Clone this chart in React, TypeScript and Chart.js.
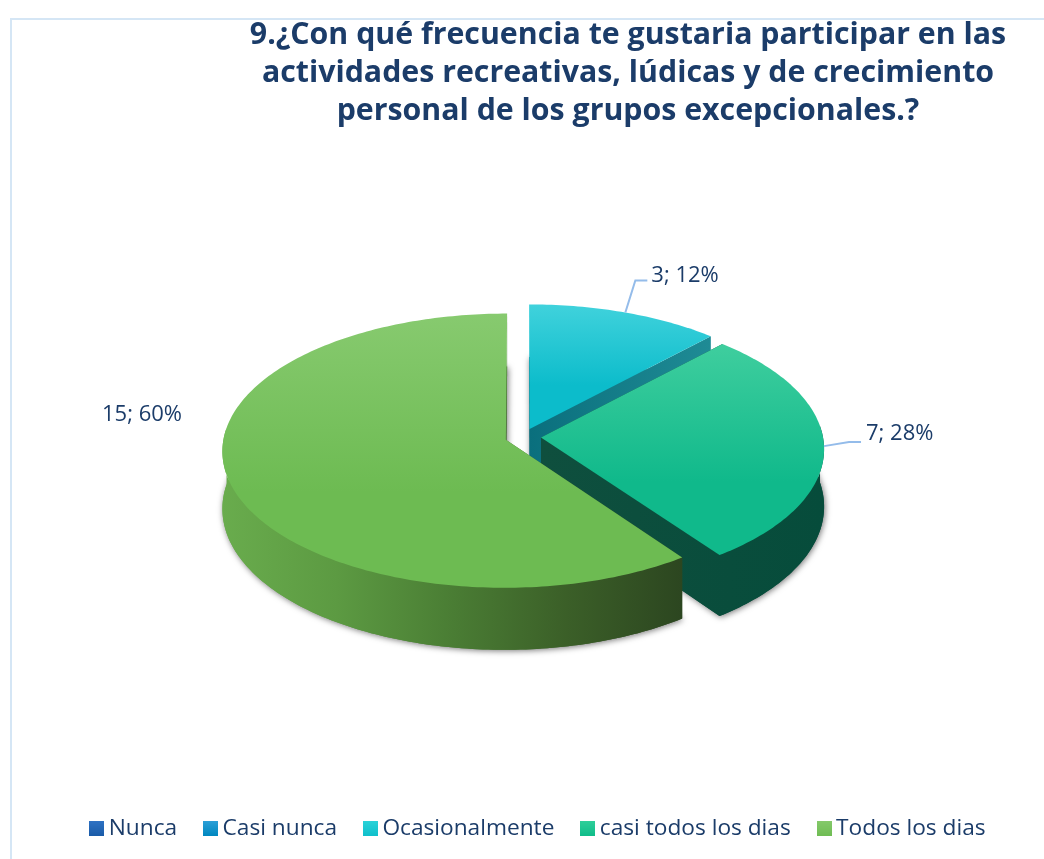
import React, { useEffect, useRef } from "react";
import { Chart, registerables } from "chart.js";

Chart.register(...registerables);

const categories = ["Nunca", "Casi nunca", "Ocasionalmente", "casi todos los dias", "Todos los dias"];
const values = [0, 0, 3, 7, 15];
const titleLines = [
  "9.¿Con qué frecuencia te gustaria participar en las",
  "actividades recreativas, lúdicas y de crecimiento",
  "personal de los grupos excepcionales.?",
];

const sliceColors = ["#1f5fad", "#1a8fc8", "#18c6d0", "#1cc490", "#70bf58"];
const swatchTops = ["#2f72c4", "#2da0d8", "#2bd3d9", "#2fcf9a", "#85ca6b"];
const swatchBottoms = ["#1a5ca8", "#0088c0", "#10c0cc", "#10bd8a", "#70bd55"];
const faceTops = ["#2f72c4", "#2da0d8", "#40d2dc", "#3fce9e", "#87ca6f"];
const faceBottoms = ["#1a5ca8", "#0088c0", "#0cbccb", "#10b98b", "#6dbb52"];
const wallStops: string[][] = [
  ["#123f73", "#123f73"],
  ["#0a5c80", "#0a5c80"],
  ["#0a6f7d", "#1f8b95"],
  ["#0f4f3e", "#064c3b"],
  ["#69ac4d", "#5c9a42", "#4a7d34", "#3b5f28", "#2c4620"],
];

const TEXT = "#1b3c69";
const LEADER = "#94bcea";
const FONT = "'Open Sans', sans-serif";

// view of the disc: vertical squash, perspective strength, wall height
const RADIUS = 282;
const SQUASH = 0.4815;
const PERSPECTIVE = 0.08;
const WALL = 57;

// label placement relative to the slice's rim point
const labelPlacement: Record<number, { text: [number, number]; bend?: [number, number]; end?: [number, number] }> = {
  2: { text: [26, -37], bend: [10, -32], end: [22, -32] },
  3: { text: [42, -12], bend: [25, -4], end: [37, -4] },
  4: { text: [-128, -68] },
};

type Pt = [number, number];

const pie3d = {
  id: "pie3d",
  afterLayout(chart: any) {
    const area = chart.chartArea;
    area.left = 243;
    area.right = 803;
    area.top = 157;
    area.bottom = 717;
    area.width = 560;
    area.height = 560;
    const t = chart.titleBlock;
    t.left += 106;
    t.right += 106;
    t.top = 2;
    t.bottom = t.top + t.height;
    const l = chart.legend;
    l.left += 19;
    l.right += 19;
    const h = l.bottom - l.top;
    l.top = 828 - 33 - 11;
    l.bottom = l.top + h;
  },
  beforeDatasetDraw() {
    return false;
  },
  afterDatasetsDraw(chart: any) {
    const ctx: CanvasRenderingContext2D = chart.ctx;
    const arcs = chart.getDatasetMeta(0).data;
    const total = values.reduce((a, b) => a + b, 0);

    const project = (px: number, py: number, cx: number, cy: number, depth = 0): Pt => {
      const dx = px - cx;
      const dy = py - cy;
      const den = 1 - (PERSPECTIVE * dy) / RADIUS;
      return [cx + dx / den, cy + (dy * SQUASH) / den + depth / den];
    };

    const geometry = (arc: any) => {
      const mid = (arc.startAngle + arc.endAngle) / 2;
      const shift = (arc.options.offset || 0) / 4;
      const ax = arc.x + Math.cos(mid) * shift;
      const ay = arc.y + Math.sin(mid) * shift;
      const at = (a: number, r: number, depth = 0) =>
        project(ax + Math.cos(a) * r, ay + Math.sin(a) * r, arc.x, arc.y, depth);
      return { mid, at };
    };

    const trace = (pts: Pt[]) => {
      ctx.beginPath();
      pts.forEach((p, i) => (i ? ctx.lineTo(p[0], p[1]) : ctx.moveTo(p[0], p[1])));
      ctx.closePath();
    };

    arcs.forEach((arc: any, i: number) => {
      if (!values[i]) return;
      const { at } = geometry(arc);
      const r = arc.outerRadius;
      const start = arc.startAngle;
      const end = arc.endAngle;
      const rim: number[] = [];
      const n = Math.ceil((end - start) / (Math.PI / 180));
      for (let k = 0; k <= n; k++) rim.push(start + ((end - start) * k) / n);

      const face = (depth: number): Pt[] => [at(0, 0, depth), ...rim.map((a) => at(a, r, depth))];
      const top = face(0);
      const xs = top.map((p) => p[0]);
      const ys = top.map((p) => p[1]);

      const wallFill = ctx.createLinearGradient(Math.min(...xs), 0, Math.max(...xs), 0);
      wallStops[i].forEach((c, k, all) => wallFill.addColorStop(k / (all.length - 1), c));

      // soft shadow from the underside
      ctx.save();
      ctx.shadowColor = "rgba(0,0,0,0.55)";
      ctx.shadowBlur = 6;
      ctx.shadowOffsetX = 1;
      ctx.shadowOffsetY = 1;
      ctx.fillStyle = wallFill;
      trace(face(WALL));
      ctx.fill();
      ctx.restore();

      ctx.fillStyle = wallFill;
      // radial walls
      [start, end].forEach((a) => {
        trace([at(0, 0), at(a, r), at(a, r, WALL), at(0, 0, WALL)]);
        ctx.fill();
      });
      // outer curved wall: front half only
      const front = rim.filter((a) => Math.sin(a) > -0.09);
      if (front.length > 1) {
        trace([...front.map((a) => at(a, r)), ...front.slice().reverse().map((a) => at(a, r, WALL))]);
        ctx.fill();
      }
      // top face
      const topFill = ctx.createLinearGradient(0, Math.min(...ys), 0, Math.max(...ys));
      topFill.addColorStop(0, faceTops[i]);
      topFill.addColorStop(0.65, faceBottoms[i]);
      topFill.addColorStop(1, faceBottoms[i]);
      ctx.fillStyle = topFill;
      trace(top);
      ctx.fill();
    });

    // data labels
    ctx.save();
    ctx.font = `22px ${FONT}`;
    ctx.textBaseline = "middle";
    ctx.textAlign = "left";
    arcs.forEach((arc: any, i: number) => {
      if (!values[i]) return;
      const { mid, at } = geometry(arc);
      const anchor = at(mid, arc.outerRadius);
      const place = labelPlacement[i];
      if (place.bend && place.end) {
        ctx.strokeStyle = LEADER;
        ctx.lineWidth = 2;
        ctx.beginPath();
        ctx.moveTo(anchor[0], anchor[1]);
        ctx.lineTo(anchor[0] + place.bend[0], anchor[1] + place.bend[1]);
        ctx.lineTo(anchor[0] + place.end[0], anchor[1] + place.end[1]);
        ctx.stroke();
      }
      ctx.fillStyle = TEXT;
      const pct = Math.round((values[i] / total) * 100);
      ctx.fillText(`${values[i]}; ${pct}%`, anchor[0] + place.text[0], anchor[1] + place.text[1]);
    });
    ctx.restore();
  },
};

function makeSwatch(i: number) {
  const c = document.createElement("canvas");
  c.width = 15;
  c.height = 15;
  const g = c.getContext("2d")!;
  const fill = g.createLinearGradient(0, 0, 0, 15);
  fill.addColorStop(0, swatchTops[i]);
  fill.addColorStop(1, swatchBottoms[i]);
  g.fillStyle = fill;
  g.fillRect(0, 0, 15, 15);
  return c;
}

export default function App() {
  const ref = useRef<HTMLCanvasElement>(null);
  useEffect(() => {
    const swatches = categories.map((_, i) => makeSwatch(i));
    const chart = new Chart(ref.current!, {
      type: "pie",
      plugins: [pie3d],
      data: {
        labels: categories,
        datasets: [{ data: values, backgroundColor: sliceColors, offset: 72, borderWidth: 0 }],
      },
      options: {
        animation: false,
        responsive: false,
        radius: RADIUS,
        plugins: {
          tooltip: { enabled: false },
          title: {
            display: true,
            text: titleLines,
            color: TEXT,
            align: "center",
            font: { family: FONT, size: 30.3, weight: "bold", lineHeight: 1.24 },
            padding: { top: 15, bottom: 0 },
          },
          legend: {
            display: true,
            position: "bottom",
            labels: {
              usePointStyle: true,
              pointStyleWidth: 1,
              boxHeight: 15,
              padding: 33,
              color: TEXT,
              font: { family: FONT, size: 22.7 },
              generateLabels: (c: any) =>
                (Chart as any).overrides.pie.plugins.legend.labels
                  .generateLabels(c)
                  .map((item: any, i: number) => ({ ...item, pointStyle: swatches[i], lineWidth: 0 })),
            },
          },
        },
      } as any,
    });
    return () => chart.destroy();
  }, []);
  return (
    <div style={{ position: "fixed", inset: 0, background: "#fff", overflow: "hidden" }}>
      <div
        style={{
          position: "absolute",
          left: 10,
          top: 18,
          right: 0,
          bottom: 0,
          borderLeft: "2px solid #d5e6f5",
          borderTop: "2px solid #d5e6f5",
        }}
      />
      <canvas ref={ref} width={1044} height={859} style={{ position: "absolute", left: 0, top: 0, display: "block" }} />
    </div>
  );
}
